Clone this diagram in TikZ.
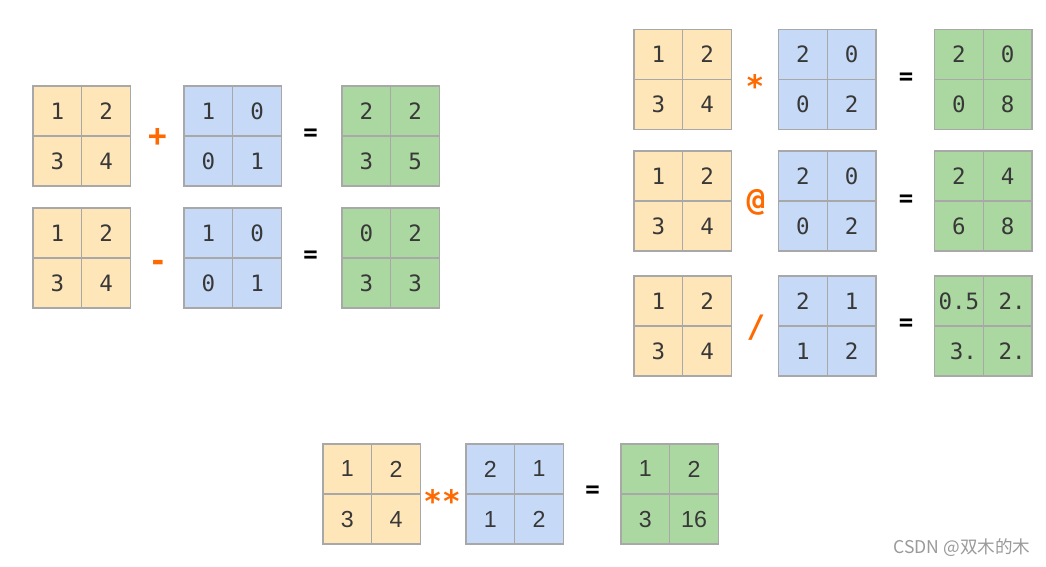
\documentclass[tikz,border=0pt]{standalone}
\usepackage{fontspec}
\setmainfont{Liberation Sans}
\setmonofont{DejaVu Sans Mono}
\newfontfamily\cjk{Noto Sans CJK SC}
\usetikzlibrary{positioning}
\definecolor{mxYellow}{HTML}{FFE6B8}
\definecolor{mxBlue}{HTML}{C6DAF8}
\definecolor{mxGreen}{HTML}{ABD8A1}
\definecolor{mxLine}{HTML}{A8A8A8}
\definecolor{mxInk}{HTML}{383838}
\definecolor{opOrange}{HTML}{FF6A00}
\definecolor{wmGray}{HTML}{9A9A9A}
\tikzset{
  cell/.style={draw=mxLine, line width=0.9pt, minimum width=1.2175cm, minimum height=1.25cm, inner sep=0pt, outer sep=0pt, text=mxInk, font=\ttfamily\fontsize{16}{19}\selectfont},
  cellY/.style={cell, fill=mxYellow},
  cellB/.style={cell, fill=mxBlue},
  cellG/.style={cell, fill=mxGreen},
  sansY/.style={cellY, font=\fontsize{16.5}{19}\selectfont},
  sansB/.style={cellB, font=\fontsize{16.5}{19}\selectfont},
  sansG/.style={cellG, font=\fontsize{16.5}{19}\selectfont},
  op/.style={inner sep=0pt, text=opOrange, font=\ttfamily\bfseries\fontsize{22}{26}\selectfont},
  eq/.style={inner sep=0pt, text=black, font=\ttfamily\bfseries\fontsize{17}{20}\selectfont},
}
% 2x2 block: name, top-left, style, four entries
\newcommand{\blockmx}[7]{%
  \node[#3, anchor=north west] (#1a) at (#2) {#4};
  \node[#3, right=0pt of #1a] (#1b) {#5};
  \node[#3, below=0pt of #1a] (#1c) {#6};
  \node[#3, right=0pt of #1c] (#1d) {#7};
}
\begin{document}
\begin{tikzpicture}[x=0.025cm, y=-0.025cm]
  \useasboundingbox[fill=white] (0,0) rectangle (1046,566);
  % addition
  \blockmx{addA}{33,86}{cellY}{1}{2}{3}{4}
  \blockmx{addB}{184,86}{cellB}{1}{0}{0}{1}
  \blockmx{addC}{342,86}{cellG}{2}{2}{3}{5}
  \node[op] (addOp) at (157.5,137) {+};
  \node[eq] (addEq) at (310.5,135) {=};
  % subtraction
  \blockmx{subA}{33,208}{cellY}{1}{2}{3}{4}
  \blockmx{subB}{184,208}{cellB}{1}{0}{0}{1}
  \blockmx{subC}{342,208}{cellG}{0}{2}{3}{3}
  \node[op] (subOp) at (158,266) {-};
  \node[eq] (subEq) at (310.5,257) {=};
  % element-wise product
  \blockmx{mulA}{634,29.5}{cellY}{1}{2}{3}{4}
  \blockmx{mulB}{778.5,29.5}{cellB}{2}{0}{0}{2}
  \blockmx{mulC}{934.5,29.5}{cellG}{2}{0}{0}{8}
  \node[op] (mulOp) at (755,86) {*};
  \node[eq] (mulEq) at (906,78.5) {=};
  % matrix product
  \blockmx{matA}{634,151}{cellY}{1}{2}{3}{4}
  \blockmx{matB}{778.5,151}{cellB}{2}{0}{0}{2}
  \blockmx{matC}{934.5,151}{cellG}{2}{4}{6}{8}
  \node[op] (matOp) at (756,202.5) {@};
  \node[eq] (matEq) at (906,200.5) {=};
  % division
  \blockmx{divA}{634,276}{cellY}{1}{2}{3}{4}
  \blockmx{divB}{778.5,276}{cellB}{2}{1}{1}{2}
  \blockmx{divC}{934.5,276}{cellG}{0.5}{\kern0.4em2.}{\kern0.4em3.}{\kern0.4em2.}
  \node[op] (divOp) at (756,328) {/};
  \node[eq] (divEq) at (906,325) {=};
  % power
  \blockmx{powA}{323,444}{sansY}{1}{2}{3}{4}
  \blockmx{powB}{466,444}{sansB}{2}{1}{1}{2}
  \blockmx{powC}{621,444}{sansG}{1}{2}{3}{16}
  \node[op] (powOp) at (442,501) {**};
  \node[eq] (powEq) at (592.5,492) {=};
  % watermark
  \node[text=wmGray, font=\cjk\fontsize{12.5}{15}\selectfont, inner sep=0pt] (mark) at (962,548) {CSDN @双木的木};
\end{tikzpicture}
\end{document}
